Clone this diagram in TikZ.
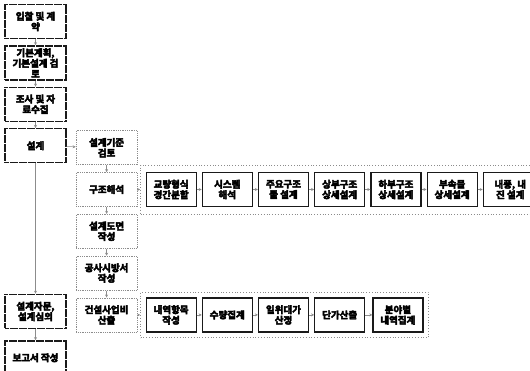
\documentclass[tikz,border=0pt]{standalone}
\usepackage{fontspec}
\newfontfamily\krfont{Noto Sans CJK KR Bold}
\newcommand\heavytext{\special{pdf:literal direct 2 Tr 0.45 w}}
\usepackage{xcolor}
\usetikzlibrary{arrows.meta,positioning,fit}
\definecolor{ink}{HTML}{1A1A1A}
\definecolor{faint}{HTML}{8C8C8C}
\tikzset{flow/.style={-{Stealth[length=3pt,width=3pt]},draw=faint,line width=.5pt},mainbox/.style={draw=ink,line width=1.4pt,dash pattern=on 4pt off .5pt,minimum width=61pt,minimum height=34pt,inner sep=1pt,align=center,font=\krfont\fontsize{9.5}{10.5}\selectfont\heavytext},subbox/.style={draw=faint,line width=.8pt,densely dotted,minimum width=61pt,minimum height=34pt,inner sep=1pt,align=center,font=\krfont\fontsize{9.5}{10.5}\selectfont\heavytext},taskbox/.style={draw=ink,line width=1.2pt,minimum width=50pt,minimum height=34pt,inner sep=1pt,align=center,font=\krfont\fontsize{9.5}{10.5}\selectfont\heavytext},group/.style={draw=faint,line width=.8pt,dotted}}

\begin{document}
\begin{tikzpicture}[x=1pt,y=-1pt,node distance=6pt]
\useasboundingbox[fill=white] (0,0) rectangle (530,370);
\node[mainbox] (bid) at (35.5,21.5) {입찰 및 계\\약};
\node[mainbox,below=of bid] (basic) {기본계획,\\기본설계 검\\토};
\node[mainbox,below=of basic] (survey) {조사 및 자\\료수집};
\node[mainbox,below=of survey] (design) {설계};
\node[subbox,right=9pt of design,yshift=-2pt] (std) {설계기준\\검토};
\node[subbox,below=7pt of std] (struct) {구조해석};
\node[subbox,below=7pt of struct] (drawing) {설계도면\\작성};
\node[subbox,below=7pt of drawing] (spec) {공사시방서\\작성};
\node[subbox,below=7pt of spec] (cost) {건설사업비\\산출};
\node[mainbox,yshift=3.5pt] (advice) at (design |- cost) {설계자문,\\설계심의};
\node[mainbox,below=11pt of advice] (report) {보고서 작성};
\node[taskbox,right=8pt of struct] (span) {교량형식\\경간분할};
\node[taskbox,right=5pt of span] (system) {시스템\\해석};
\node[taskbox,right=5pt of system] (main) {주요구조\\물 설계};
\node[taskbox,right=5pt of main] (upper) {상부구조\\상세설계};
\node[taskbox,right=5pt of upper] (lower) {하부구조\\상세설계};
\node[taskbox,right=5pt of lower] (attach) {부속물\\상세설계};
\node[taskbox,right=5pt of attach,minimum width=54pt] (wind) {내풍, 내\\진 설계};
\node[group,fit=(span)(wind),inner xsep=5pt,inner ysep=7pt] (g1) {};
\node[taskbox,right=8pt of cost] (items) {내역항목\\작성};
\node[taskbox,right=5pt of items] (qty) {수량집계};
\node[taskbox,right=5pt of qty] (unit) {일위대가\\산정};
\node[taskbox,right=5pt of unit] (price) {단가산출};
\node[taskbox,right=7pt of price] (sum) {분야별\\내역집계};
\node[group,fit=(items)(sum),inner sep=5pt] (g2) {};
% left column
\draw[flow] (bid) -- (basic);
\draw[flow] (basic) -- (survey);
\draw[flow] (survey) -- (design);
\draw[flow] (design) -- (advice);
\draw[flow] (advice) -- (report);
% design steps
\draw[flow] (design) -- (std);
\draw[flow] (std) -- (struct);
\draw[flow] (struct) -- (drawing);
\draw[flow] (drawing) -- (spec);
\draw[flow] (spec) -- (cost);
\draw[flow] (struct) -- (g1);
\draw[flow] (cost) -- (g2);
\draw[flow] (span) -- (system);\draw[flow] (system) -- (main);\draw[flow] (main) -- (upper);
\draw[flow] (upper) -- (lower);\draw[flow] (lower) -- (attach);\draw[flow] (attach) -- (wind);
\draw[flow] (items) -- (qty);\draw[flow] (qty) -- (unit);\draw[flow] (unit) -- (price);\draw[flow] (price) -- (sum);
\end{tikzpicture}
\end{document}
